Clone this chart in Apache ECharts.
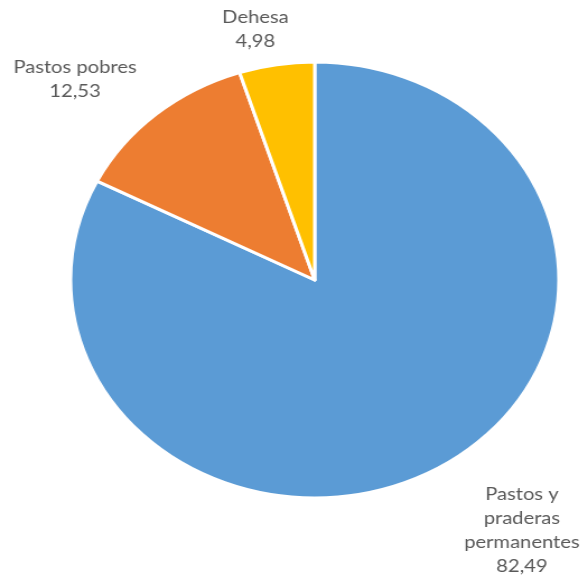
<!DOCTYPE html>
<html>
<head>
<meta charset="utf-8">
<script src="https://cdn.jsdelivr.net/npm/echarts@6/dist/echarts.min.js"></script>
<style>
  html, body { margin: 0; padding: 0; background: #fff; overflow: hidden; }
  #wrap { width: 585px; height: 580px; overflow: hidden; }
  /* la imagen original está estirada en horizontal (elipse) */
  #pieChart { width: 522px; height: 580px; transform: scaleX(1.12); transform-origin: 0 0; }
</style>
</head>
<body>
<div id="wrap"><div id="pieChart"></div></div>
<script>
// datos de la gráfica
var categories = ['Pastos y praderas permanentes', 'Pastos pobres', 'Dehesa']
var values = [82.49, 12.53, 4.98]
var colors = ['#5B9BD5', '#ED7D31', '#FFC000']

// posición de cada etiqueta (coordenadas antes del estirado)
var labelPos = [[466, 530], [67, 79], [228, 29]]

var pieData = categories.map(function(name, i) {
  return { name: name, value: values[i], itemStyle: { color: colors[i] } }
})

var chart = echarts.init(document.getElementById('pieChart'))
chart.setOption({
  animation: false,
  textStyle: { fontFamily: 'Lato, "Open Sans", sans-serif' },
  series: [
    {
      type: 'pie',
      center: [281, 280],
      radius: 218,
      startAngle: 90,
      clockwise: true,
      itemStyle: { borderColor: '#fff', borderWidth: 3 },
      label: {
        show: true,
        position: 'outside',
        color: '#595959',
        fontSize: 18,
        lineHeight: 24,
        align: 'center',
        overflow: 'none',
        width: 200,
        formatter: function(p) {
          var name = p.dataIndex === 0 ? 'Pastos y\npraderas\npermanentes' : p.name
          return name + '\n' + p.value.toFixed(2).replace('.', ',')
        }
      },
      labelLine: { show: false },
      labelLayout: function(params) {
        var pos = labelPos[params.dataIndex]
        return { x: pos[0], y: pos[1], align: 'center', verticalAlign: 'middle' }
      },
      data: pieData
    }
  ]
})
</script>
</body>
</html>
